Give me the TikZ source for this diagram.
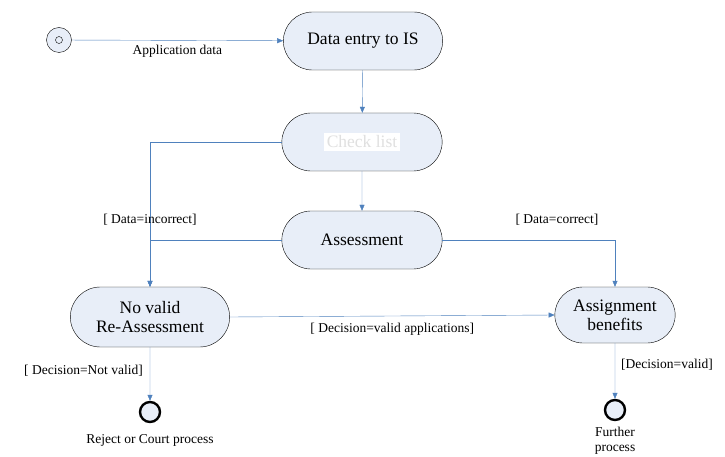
\documentclass[tikz,border=0pt]{standalone}
\usepackage{fontspec}
\setmainfont{Liberation Serif}
\usetikzlibrary{shapes.misc,arrows.meta}
\definecolor{actfill}{RGB}{232,238,248}
\definecolor{flowblue}{RGB}{79,129,189}

\begin{document}
\begin{tikzpicture}[x=1pt,y=-1pt,
  activity/.style={rounded rectangle, draw=black, fill=actfill, minimum height=58pt, font=\fontsize{17.5}{19}\selectfont, align=center},
  endstate/.style={circle, draw=black, line width=2.4pt, fill=actfill, minimum size=20pt, inner sep=0pt},
  flow/.style={draw=flowblue, -{Triangle[length=6pt,width=5pt]}},
  guard/.style={font=\fontsize{13.5}{15}\selectfont, inner sep=1pt}]

\useasboundingbox (0,0) rectangle (725,457);

\node [circle, draw=black, fill=actfill, minimum size=25pt, inner sep=0pt] (start) at (59,40) {};
\node [circle, draw=black, minimum size=7pt, inner sep=0pt] (startdot) at (start) {};
\node [activity, minimum width=166pt] (entry) at (363,41) {Data entry to IS};
\node [activity, minimum width=167pt] (check) at (362,142) {\colorbox{white}{\color{black!12}Check list}};
\node [activity, minimum width=167pt] (assess) at (362,240) {Assessment};
\node [activity, minimum width=166pt, minimum height=60pt] (novalid) at (150,317) {No valid\\Re-Assessment};
\node [activity, minimum width=127pt, minimum height=56pt] (assign) at (615,315) {Assignment\\benefits};
\node [endstate] (reject) at (150,412) {};
\node [endstate] (further) at (615,410) {};

% flows
\draw [flow] (start) -- node [guard, below=4pt] {Application data} (entry);
\draw [flow] (entry) -- (check);
\draw [flow] (check) -- (assess);
\draw [flow] (check.west) -| (novalid.north);
\draw [flow] (assess.west) -| (novalid.north);
\draw [flow] (assess.east) -| (assign.north);
\draw [flow] (novalid.east) -- node [guard, below=6pt] {[ Decision=valid applications]} (assign.west);
\draw [flow] (novalid) -- (reject);
\draw [flow] (assign) -- (further);

% guards and captions
\node [guard] (incorrect) at (150,220) {[ Data=incorrect]};
\node [guard] (correct) at (557,220) {[ Data=correct]};
\node [guard, anchor=east] (notvalid) at (144,371) {[ Decision=Not valid]};
\node [guard, anchor=west] (valid) at (620,365) {[Decision=valid]};
\node [guard] (rejectlbl) at (150,440) {Reject or Court process};
\node [guard, align=center, font=\fontsize{13.5}{14.5}\selectfont] (furtherlbl) at (615,441) {Further\\process};

\end{tikzpicture}
\end{document}
